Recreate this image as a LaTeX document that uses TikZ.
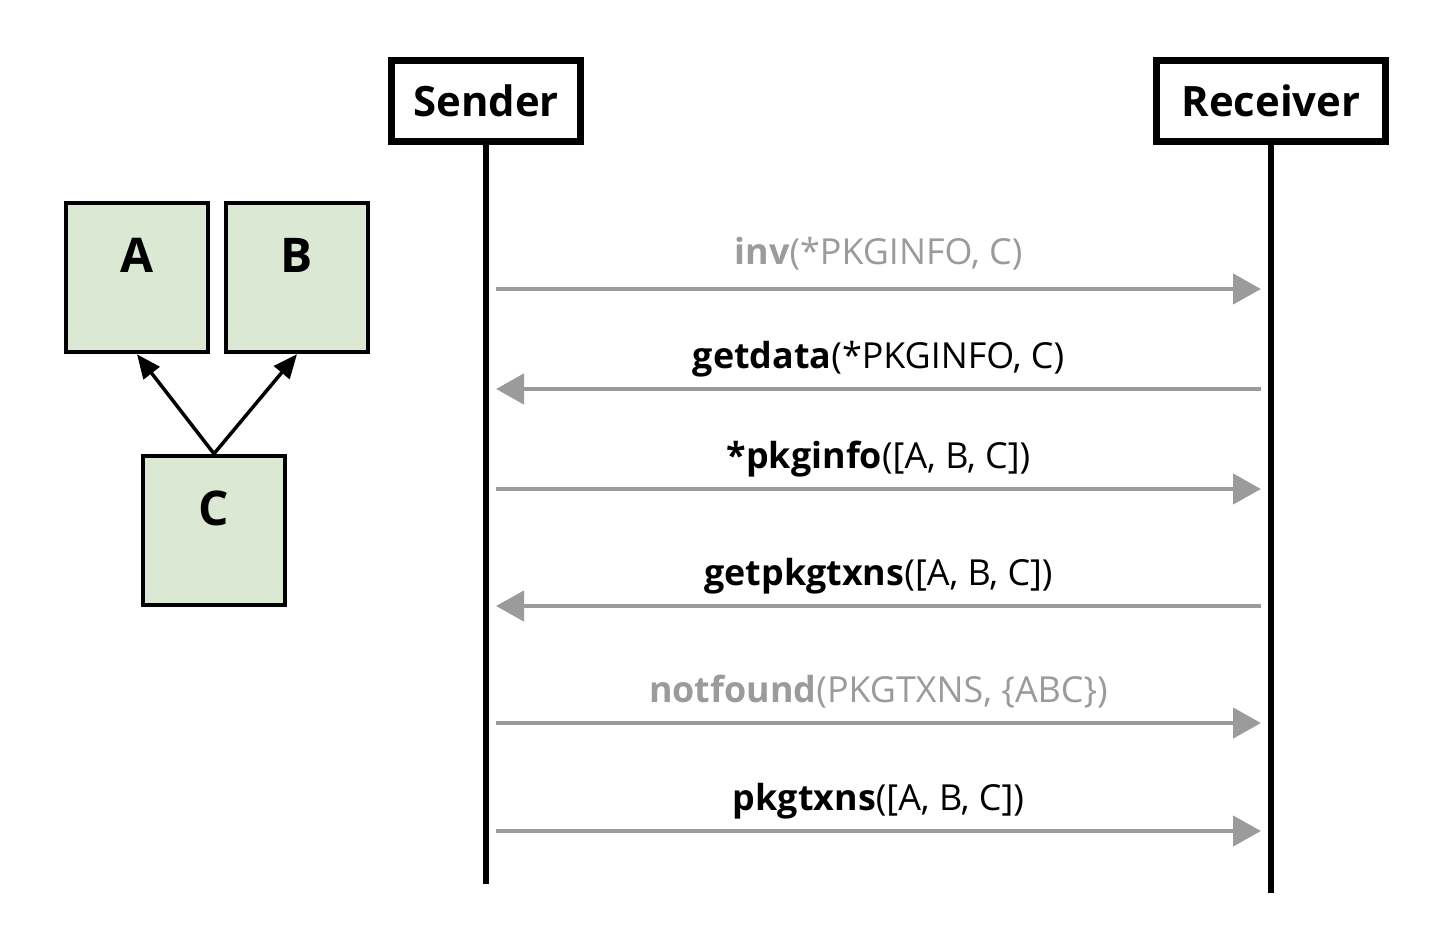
\documentclass[tikz,border=0pt]{standalone}
\usepackage{fontspec}
\setmainfont{Open Sans}
\usetikzlibrary{positioning,arrows.meta}

\definecolor{pkggreen}{HTML}{DBE8D4}
\definecolor{msggray}{HTML}{9B9B9B}

\tikzset{
  actor/.style={draw, line width=7bp, minimum height=81bp, inner sep=0pt,
    font=\fontsize{42}{50}\selectfont\bfseries},
  life/.style={line width=6bp},
  pkg/.style={draw, line width=4.5bp, fill=pkggreen, minimum width=142bp,
    minimum height=149bp, inner sep=0pt, text height=36bp, text depth=46bp,
    font=\fontsize{48}{56}\selectfont\bfseries},
  dep/.style={line width=3.5bp, -{Triangle[length=24bp,width=20bp]}},
  msg/.style={line width=4.5bp, draw=msggray, -{Triangle[length=28bp,width=30bp]}},
  lbl/.style={midway, anchor=base, yshift=21bp, inner sep=0pt,
    font=\fontsize{36}{43}\selectfont, text=black},
  lblgray/.style={lbl, text=msggray}
}

\begin{document}
\begin{tikzpicture}[x=1bp,y=-1bp]
  \useasboundingbox (0,0) rectangle (1450,932);

  % pacchetti
  \node[pkg] (A) at (137,277.5) {A};
  \node[pkg] (B) at (297,277.5) {B};
  \node[pkg] (C) at (214,530.5) {C};
  \draw[dep] (C.north) -- (A.south);
  \draw[dep] (C.north) -- (B.south);

  % attori
  \node[actor, minimum width=189bp] (snd) at (486,101) {Sender};
  \node[actor, minimum width=229bp] (rcv) at (1271,101) {Receiver};
  \coordinate (sndend) at (486,884);
  \coordinate (rcvend) at (1271,893);
  \draw[life] (snd.south) -- (sndend);
  \draw[life] (rcv.south) -- (rcvend);

  % messaggi
  \foreach \n/\y in {1/289,2/389,3/489,4/606,5/723,6/831} {
    \coordinate (s\n) at (496,\y);
    \coordinate (r\n) at (1261,\y);
  }
  \draw[msg] (s1) -- node[lblgray, yshift=4bp] (m1) {\textbf{inv}(*PKGINFO, C)} (r1);
  \draw[msg] (r2) -- node[lbl] (m2) {\textbf{getdata}(*PKGINFO, C)} (s2);
  \draw[msg] (s3) -- node[lbl] (m3) {\textbf{*pkginfo}([A, B, C])} (r3);
  \draw[msg] (r4) -- node[lbl] (m4) {\textbf{getpkgtxns}([A, B, C])} (s4);
  \draw[msg] (s5) -- node[lblgray] (m5) {\textbf{notfound}(PKGTXNS, \{ABC\})} (r5);
  \draw[msg] (s6) -- node[lbl] (m6) {\textbf{pkgtxns}([A, B, C])} (r6);
\end{tikzpicture}
\end{document}
